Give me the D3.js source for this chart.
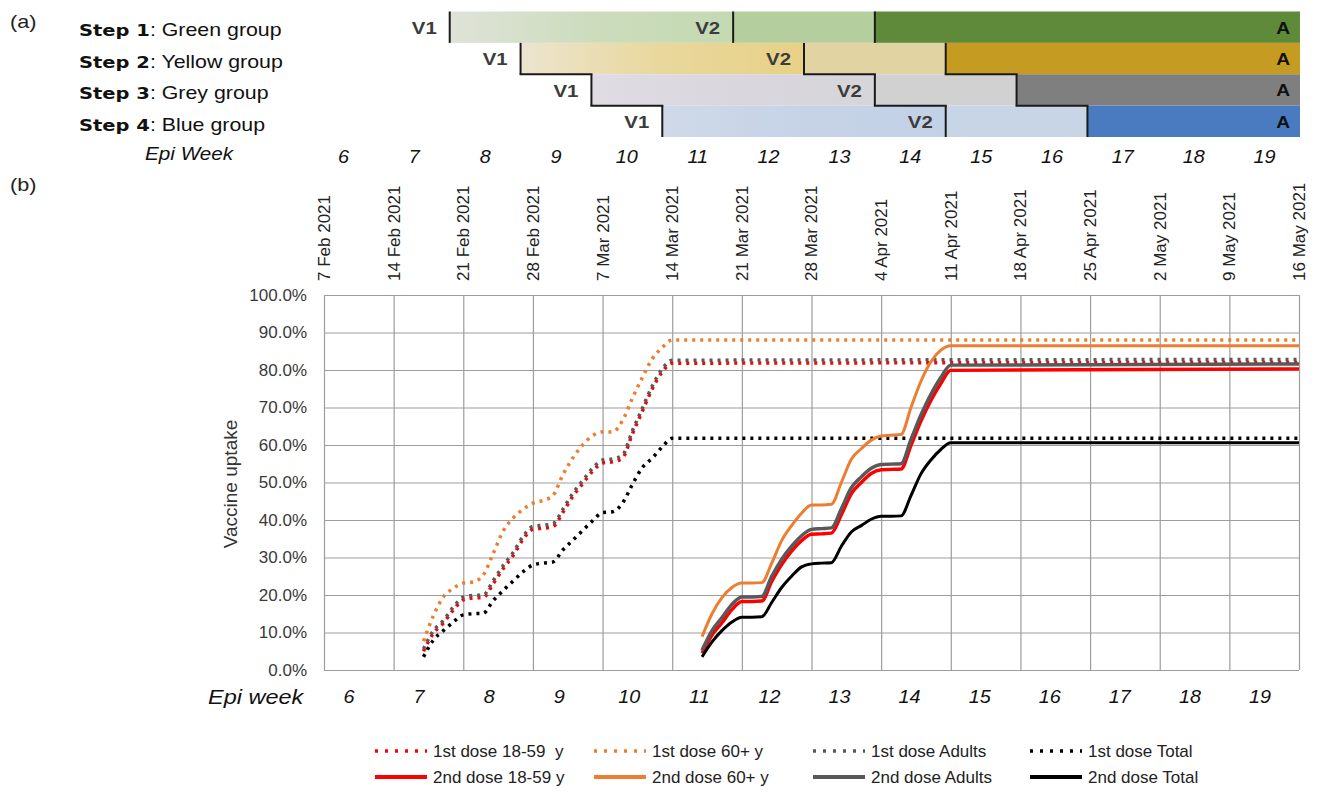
<!DOCTYPE html>
<html><head><meta charset="utf-8">
<script src="https://cdn.jsdelivr.net/npm/d3@7"></script>
<style>
body{margin:0;background:#fff}
svg{display:block}
text{font-family:"Liberation Sans",Arial,sans-serif}
</style>
</head><body>
<svg id="chart" width="1317" height="795"></svg>
<script>
// ---------- DATA ----------
const stepNames = ["Step 1", "Step 2", "Step 3", "Step 4"];
const stepGroups = ["Green group", "Yellow group", "Grey group", "Blue group"];
const v1Week = [8, 9, 10, 11];      // week in which first dose opens
const v2Week = [12, 13, 14, 15];    // week in which second dose opens
const allWeek = [14, 15, 16, 17];   // week from which group is all vaccinated (A)
const epiWeeks = [6, 7, 8, 9, 10, 11, 12, 13, 14, 15, 16, 17, 18, 19];

const dateTicks = ["2021-02-07","2021-02-14","2021-02-21","2021-02-28","2021-03-07","2021-03-14","2021-03-21",
  "2021-03-28","2021-04-04","2021-04-11","2021-04-18","2021-04-25","2021-05-02","2021-05-09","2021-05-16"];
const dateLabels = ["7 Feb 2021","14 Feb 2021","21 Feb 2021","28 Feb 2021","7 Mar 2021","14 Mar 2021","21 Mar 2021",
  "28 Mar 2021","4 Apr 2021","11 Apr 2021","18 Apr 2021","25 Apr 2021","2 May 2021","9 May 2021","16 May 2021"];
const yTicks = [0, 10, 20, 30, 40, 50, 60, 70, 80, 90, 100];

const dose1Dates = ["2021-02-17","2021-02-18","2021-02-19","2021-02-20","2021-02-21","2021-02-22","2021-02-23",
  "2021-02-24","2021-02-25","2021-02-26","2021-02-27","2021-02-28","2021-03-01","2021-03-02","2021-03-03",
  "2021-03-04","2021-03-05","2021-03-06","2021-03-07","2021-03-08","2021-03-09","2021-03-10","2021-03-11",
  "2021-03-12","2021-03-13","2021-03-14","2021-05-16"];
const first1859   = [5,9.8,12.5,16,18.7,19.2,19.3,23,27,30.5,34.8,37.5,37.8,38.2,42,46.3,49.7,53,55.2,55.5,56.5,63,69,75,79.5,81.8,82];
const first60     = [7.7,14.5,19.5,21.8,23.2,23.5,25.3,31,37,40.5,42.8,44.5,45.2,46.5,52,56.5,60,62.5,63.5,63.5,66.5,72.5,78,83,86,88,88];
const firstAdults = [5.6,10.5,13.2,16.8,19.4,19.9,20,23.8,27.8,31.3,35.6,38.3,38.6,39,42.8,47.1,50.5,53.8,56,56.3,57.3,63.8,69.8,75.8,80.3,82.6,82.8];
const firstTotal  = [3.5,8,10.5,12.8,14.7,15,15.1,18.5,21.2,23.7,26.2,28,28.5,28.8,32,34.6,37.2,39.8,42,42.2,44.5,49.5,54,56.5,59.5,61.8,61.8];

const dose2Dates = ["2021-03-17","2021-03-18","2021-03-19","2021-03-20","2021-03-21","2021-03-22","2021-03-23",
  "2021-03-24","2021-03-25","2021-03-26","2021-03-27","2021-03-28","2021-03-29","2021-03-30","2021-03-31",
  "2021-04-01","2021-04-02","2021-04-03","2021-04-04","2021-04-05","2021-04-06","2021-04-07","2021-04-08",
  "2021-04-09","2021-04-10","2021-04-11","2021-05-16"];
const second1859   = [4.5,9.3,12.6,16.1,18.3,18.3,18.4,23.6,28.1,31.7,34.5,36.2,36.3,36.5,41.4,47,50,52.4,53.4,53.5,53.6,59.9,66.4,71.9,76.4,79.9,80.3];
const second60     = [8.9,15,19.3,22,23.2,23.2,23.3,28.5,34.5,38.5,41.8,44,44,44.2,50,56.2,59,61.3,62.4,62.6,62.8,70,77,82.2,85.3,86.5,86.5];
const secondAdults = [5.3,10.5,14,17.5,19.5,19.5,19.6,25,29.5,33,35.8,37.5,37.7,37.9,43,48.6,51.5,53.8,54.8,54.9,55,61.5,68,73.5,78,81.3,81.6];
const secondTotal  = [3.5,7.5,10.5,12.8,14.1,14.1,14.2,18,22,25,27.5,28.3,28.5,28.6,33,36.8,38.5,40.2,41,41,41.1,46.5,52.3,56,58.8,60.6,60.6];

const seriesNames = ["1st dose 18-59  y","1st dose 60+ y","1st dose Adults","1st dose Total",
                     "2nd dose 18-59 y","2nd dose 60+ y","2nd dose Adults","2nd dose Total"];

// ---------- STYLE ----------
const rowColorLight = [["#dfe3d8","#c4d9b2"],["#ece5cf","#e8d186"],["#dfdde3","#d6d5da"],["#cfd9e8","#c2d1e6"]];
const rowColorMid = ["#b4ce9e","#e1d4a2","#d1d1d1","#c8d5e6"];
const rowColorA = ["#5e8a3a","#c59b22","#7f7f7f","#4a7bc0"];
const lineColors = ["#ff0000","#ed7d31","#595959","#000000"];

const svg = d3.select("#chart");
const parse = d3.timeParse("%Y-%m-%d");
const defs = svg.append("defs");

// ---------- PANEL (a) ----------
const xTop = d3.scaleBand().domain(epiWeeks).range([308, 1300]);
const yRow = d3.scaleBand().domain(stepGroups).range([11.5, 137]);
const topG = svg.append("g");
const endX = xTop.range()[1];

stepGroups.forEach((g, i) => {
  const gid = "grad" + i;
  const lg = defs.append("linearGradient").attr("id", gid).attr("x1", "0").attr("x2", "1").attr("y1", "0").attr("y2", "0");
  lg.append("stop").attr("offset", "0").attr("stop-color", rowColorLight[i][0]);
  lg.append("stop").attr("offset", "0.5").attr("stop-color", d3.interpolateRgb(rowColorLight[i][0], rowColorLight[i][1])(0.7));
  lg.append("stop").attr("offset", "1").attr("stop-color", rowColorLight[i][1]);
  const top = yRow(g), h = yRow.bandwidth();
  const x1 = xTop(v1Week[i]), x2 = xTop(v2Week[i]), x3 = xTop(allWeek[i]);
  topG.append("rect").attr("x", x1).attr("y", top).attr("width", x2 - x1).attr("height", h).attr("fill", `url(#${gid})`);
  topG.append("rect").attr("x", x2).attr("y", top).attr("width", x3 - x2).attr("height", h).attr("fill", rowColorMid[i]);
  topG.append("rect").attr("x", x3).attr("y", top).attr("width", endX - x3).attr("height", h).attr("fill", rowColorA[i]);
});

// staircase borders
[v1Week, v2Week, allWeek].forEach(arr => {
  stepGroups.forEach((g, i) => {
    const xx = xTop(arr[i]);
    const top = yRow(g), bot = top + yRow.bandwidth();
    topG.append("line").attr("x1", xx).attr("x2", xx).attr("y1", top).attr("y2", bot)
      .attr("stroke", "#1a1a1a").attr("stroke-width", 2);
    if (i === 1 || i === 2) {
      topG.append("line").attr("x1", xx - 1).attr("x2", xTop(arr[i + 1]) + 1).attr("y1", bot).attr("y2", bot)
        .attr("stroke", "#1a1a1a").attr("stroke-width", 2);
    }
  });
});

function sText(parent, x, y, scaleX) {
  return parent.append("text").attr("transform", `translate(${x},${y}) scale(${scaleX},1)`)
    .attr("dominant-baseline", "central");
}

// labels V1, V2, A
stepGroups.forEach((g, i) => {
  const cy = yRow(g) + yRow.bandwidth() / 2 + 1;
  [["V1", v1Week[i]], ["V2", v2Week[i]]].forEach(([lab, w]) => {
    sText(topG, xTop(w) - 13, cy, 1.2).attr("text-anchor", "end").attr("font-weight", "bold")
      .attr("font-size", 17).attr("fill", "#3c3c3c").text(lab);
  });
  sText(topG, endX - 10, cy, 1.2).attr("text-anchor", "end").attr("font-weight", "bold")
    .attr("font-size", 16).attr("fill", "#111").text("A");
  const t = sText(topG, 79, cy + 2, 1.22).attr("font-size", 17.5).attr("fill", "#111");
  t.append("tspan").attr("font-family", "DejaVu Sans").attr("font-weight", "bold").attr("font-size", 16).text(stepNames[i]);
  t.append("tspan").text(": " + g);
});

sText(svg, 10, 22, 1.2).attr("font-size", 18).attr("fill", "#222").text("(a)");
sText(svg, 10, 185, 1.2).attr("font-size", 18).attr("fill", "#222").text("(b)");
sText(svg, 145, 154, 1.15).attr("font-size", 18).attr("font-style", "italic").attr("fill", "#111").text("Epi Week");
epiWeeks.forEach(w => {
  sText(svg, xTop(w) + xTop.bandwidth() / 2, 157, 1.1).attr("text-anchor", "middle").attr("font-size", 18)
    .attr("font-style", "italic").attr("fill", "#111").text(w);
});

// ---------- PANEL (b) ----------
const x = d3.scaleTime().domain([parse(dateTicks[0]), parse(dateTicks[dateTicks.length - 1])]).range([324, 1299]);
const y = d3.scaleLinear().domain([0, 100]).range([670, 295]);
const plot = svg.append("g");

const yAxis = plot.append("g").attr("transform", "translate(324,0)")
  .call(d3.axisLeft(y).tickValues(yTicks).tickSize(-(1299 - 324)).tickPadding(17).tickFormat(d => d.toFixed(1) + "%"));
yAxis.select(".domain").remove();
yAxis.selectAll("line").attr("stroke", "#9d9d9d").attr("stroke-width", 1.2);
yAxis.selectAll("text").attr("font-size", 17).attr("fill", "#3a3a3a").attr("font-family", "Liberation Sans, Arial");

const xAxis = plot.append("g").attr("transform", "translate(0,295)")
  .call(d3.axisTop(x).tickValues(dateTicks.map(parse)).tickSize(-(670 - 295)).tickFormat(""));
xAxis.select(".domain").remove();
xAxis.selectAll("line").attr("stroke", "#9d9d9d").attr("stroke-width", 1.2);

dateTicks.forEach((d, i) => {
  plot.append("text").attr("transform", `translate(${x(parse(d))},281) rotate(-90)`)
    .attr("dy", "0.35em").attr("font-size", 17).attr("fill", "#222").text(dateLabels[i]);
});

plot.append("text").attr("transform", "translate(230,484) rotate(-90)").attr("text-anchor", "middle")
  .attr("dy", "0.35em").attr("font-size", 19).attr("fill", "#333").text("Vaccine uptake");

// bottom epi week
const xBot = d3.scaleBand().domain(epiWeeks).range([318, 1299]);
sText(svg, 208, 697, 1.12).attr("font-size", 21).attr("font-style", "italic").attr("fill", "#111").text("Epi week");
epiWeeks.forEach(w => {
  sText(svg, xBot(w) + xBot.bandwidth() / 2 - 4, 697, 1.1).attr("text-anchor", "middle").attr("font-size", 18)
    .attr("font-style", "italic").attr("fill", "#111").text(w);
});

// lines
const lineGen = d3.line().x(d => x(d.date)).y(d => y(d.v)).curve(d3.curveMonotoneX);
const firstSeries = [first1859, first60, firstAdults, firstTotal];
const secondSeries = [second1859, second60, secondAdults, secondTotal];
const solidWidths = [3.5, 3, 3.5, 3];

firstSeries.forEach((vals, i) => {
  const data = vals.map((v, j) => ({date: parse(dose1Dates[j]), v}));
  plot.append("path").attr("d", lineGen(data)).attr("fill", "none").attr("stroke", lineColors[i])
    .attr("stroke-width", 3.5).attr("stroke-dasharray", "3,5");
});
secondSeries.forEach((vals, i) => {
  const data = vals.map((v, j) => ({date: parse(dose2Dates[j]), v}));
  plot.append("path").attr("d", lineGen(data)).attr("fill", "none").attr("stroke", lineColors[i])
    .attr("stroke-width", solidWidths[i]).attr("stroke-linejoin", "round");
});

// legend
const legX = [375, 594, 813, 1030];
const legY = [751, 777];
seriesNames.forEach((name, k) => {
  const col = k % 4, row = Math.floor(k / 4);
  const lx = legX[col], ly = legY[row];
  const ln = svg.append("line").attr("x1", lx).attr("x2", lx + 52).attr("y1", ly).attr("y2", ly)
    .attr("stroke", lineColors[col]);
  if (row === 0) ln.attr("stroke-width", 3.5).attr("stroke-dasharray", "3,7");
  else ln.attr("stroke-width", 4);
  svg.append("text").attr("x", lx + 58).attr("y", ly).attr("dominant-baseline", "central")
    .attr("font-size", 17).attr("fill", "#222").attr("xml:space", "preserve").text(name);
});
</script>
</body></html>
